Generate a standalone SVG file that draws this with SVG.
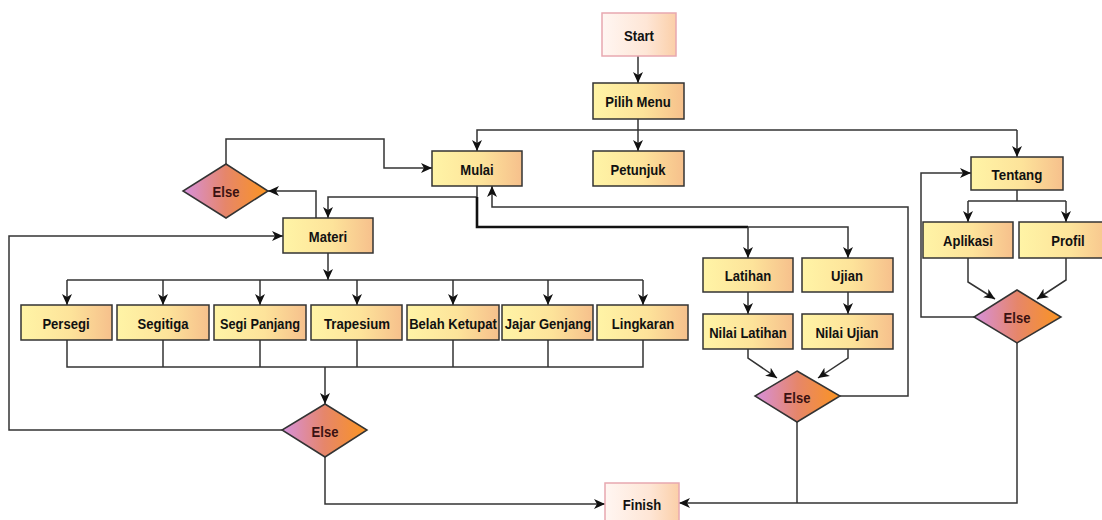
<svg xmlns="http://www.w3.org/2000/svg" width="1102" height="520" viewBox="0 0 1102 520">
<defs>
<linearGradient id="gBox" x1="0" y1="0" x2="1" y2="0">
<stop offset="0" stop-color="#fff4a6"/>
<stop offset="0.55" stop-color="#fde39a"/>
<stop offset="1" stop-color="#f6c08c"/>
</linearGradient>
<linearGradient id="gTerm" x1="0" y1="0" x2="1" y2="0">
<stop offset="0" stop-color="#fff6f2"/>
<stop offset="0.6" stop-color="#fee6d6"/>
<stop offset="1" stop-color="#fbcfa8"/>
</linearGradient>
<linearGradient id="gDia" x1="0" y1="0" x2="1" y2="0">
<stop offset="0" stop-color="#d690dc"/>
<stop offset="0.5" stop-color="#e6866a"/>
<stop offset="1" stop-color="#fb9420"/>
</linearGradient>
<marker id="arr" markerUnits="userSpaceOnUse" markerWidth="12" markerHeight="12" refX="11" refY="5" orient="auto" viewBox="0 0 12 10">
<path d="M0,0 L11,5 L0,10 L3,5 z" fill="#111"/>
</marker>
<style>
.box{fill:url(#gBox);stroke:#333;stroke-width:1.5}
.term{fill:url(#gTerm);stroke:#e8a8b0;stroke-width:1.5}
.dia{fill:url(#gDia);stroke:#333;stroke-width:1.5}
.t{font-family:"Liberation Sans",Arial,sans-serif;font-weight:bold;font-size:15.5px;fill:#111;text-anchor:middle;dominant-baseline:central}
.td{fill:#3a1212}
.c{fill:none;stroke:#333;stroke-width:1.5}
.a{marker-end:url(#arr)}
.thick{stroke-width:2.6;stroke:#111}
</style>
</defs>
<g id="connectors">
<path class="c a" d="M638,56 L638,83"/>
<path class="c a" d="M638,119 L638,151"/>
<path class="c a" d="M1017,130 L477,130 L477,151"/>
<path class="c a" d="M1017,130 L1017,157"/>
<path class="c a" d="M226,164 L226,139 L384,139 L384,168 L432,168"/>
<path class="c a" d="M316,218 L316,191 L268,191"/>
<path class="c a" d="M477,186 L477,197 L328,197 L328,218"/>
<path class="c thick" d="M477,197 L477,227 L748,227"/>
<path class="c a" d="M748,227 L748,258"/>
<path class="c a" d="M748,227 L848,227 L848,258"/>
<path class="c a" d="M748,292 L748,314"/>
<path class="c a" d="M848,292 L848,314"/>
<path class="c a" d="M748,349 L748,358 L777,378"/>
<path class="c a" d="M848,349 L848,358 L818,378"/>
<path class="c a" d="M840,396 L908,396 L908,207 L492,207 L492,186"/>
<path class="c" d="M797,422 L797,503"/>
<path class="c a" d="M1017,343 L1017,503 L679,503"/>
<path class="c a" d="M328,253 L328,280"/>
<path class="c" d="M67,280 L643,280"/>
<path class="c a" d="M67,280 L67,305"/>
<path class="c a" d="M163,280 L163,305"/>
<path class="c a" d="M260,280 L260,305"/>
<path class="c a" d="M357,280 L357,305"/>
<path class="c a" d="M453,280 L453,305"/>
<path class="c a" d="M548,280 L548,305"/>
<path class="c a" d="M643,280 L643,305"/>
<path class="c" d="M67,340 L67,367 L643,367 L643,340"/>
<path class="c" d="M163,340 L163,367"/>
<path class="c" d="M260,340 L260,367"/>
<path class="c" d="M357,340 L357,367"/>
<path class="c" d="M453,340 L453,367"/>
<path class="c" d="M548,340 L548,367"/>
<path class="c a" d="M325,367 L325,404"/>
<path class="c a" d="M282,430 L9,430 L9,236 L283,236"/>
<path class="c a" d="M325,457 L325,504 L605,504"/>
<path class="c" d="M1017,190 L1017,201"/>
<path class="c" d="M968,201 L1066,201"/>
<path class="c a" d="M968,201 L968,222"/>
<path class="c a" d="M1066,201 L1066,222"/>
<path class="c a" d="M968,258 L968,282 L995,299"/>
<path class="c a" d="M1066,258 L1066,280 L1037,299"/>
<path class="c a" d="M974,317 L921,317 L921,173 L971,173"/>
</g>
<g id="start"><rect class="term" x="602" y="13" width="74" height="43"/><text class="t" x="639" y="35" textLength="30" lengthAdjust="spacingAndGlyphs">Start</text></g>
<g id="pilih-menu"><rect class="box" x="593" y="83" width="91" height="36"/><text class="t" x="638" y="101" textLength="65.3" lengthAdjust="spacingAndGlyphs">Pilih Menu</text></g>
<g id="petunjuk"><rect class="box" x="593" y="151" width="91" height="35"/><text class="t" x="638" y="169" textLength="55.1" lengthAdjust="spacingAndGlyphs">Petunjuk</text></g>
<g id="mulai"><rect class="box" x="432" y="151" width="90" height="35"/><text class="t" x="477" y="169" textLength="33.4" lengthAdjust="spacingAndGlyphs">Mulai</text></g>
<g id="tentang"><rect class="box" x="971" y="157" width="92" height="33"/><text class="t" x="1017" y="174" textLength="50.8" lengthAdjust="spacingAndGlyphs">Tentang</text></g>
<g id="else1"><polygon class="dia" points="226,164 268,191 226,218 183,191"/><text class="t td" x="226" y="191" textLength="26.8" lengthAdjust="spacingAndGlyphs">Else</text></g>
<g id="materi"><rect class="box" x="283" y="218" width="90" height="35"/><text class="t" x="328" y="236" textLength="38.4" lengthAdjust="spacingAndGlyphs">Materi</text></g>
<g id="latihan"><rect class="box" x="703" y="258" width="90" height="34"/><text class="t" x="748" y="275" textLength="46.4" lengthAdjust="spacingAndGlyphs">Latihan</text></g>
<g id="ujian"><rect class="box" x="802" y="258" width="91" height="34"/><text class="t" x="847" y="275" textLength="31.9" lengthAdjust="spacingAndGlyphs">Ujian</text></g>
<g id="nilai-latihan"><rect class="box" x="703" y="314" width="90" height="35"/><text class="t" x="748" y="332" textLength="77.6" lengthAdjust="spacingAndGlyphs">Nilai Latihan</text></g>
<g id="nilai-ujian"><rect class="box" x="802" y="314" width="91" height="35"/><text class="t" x="847" y="332" textLength="63.1" lengthAdjust="spacingAndGlyphs">Nilai Ujian</text></g>
<g id="aplikasi"><rect class="box" x="923" y="222" width="90" height="36"/><text class="t" x="968" y="240" textLength="50" lengthAdjust="spacingAndGlyphs">Aplikasi</text></g>
<g id="profil"><rect class="box" x="1019" y="222" width="94" height="36"/><text class="t" x="1068" y="240" textLength="33.4" lengthAdjust="spacingAndGlyphs">Profil</text></g>
<g id="else4"><polygon class="dia" points="1017,290 1061,317 1017,343 974,317"/><text class="t td" x="1017" y="317" textLength="26.8" lengthAdjust="spacingAndGlyphs">Else</text></g>
<g id="persegi"><rect class="box" x="21" y="305" width="91" height="35"/><text class="t" x="66" y="323" textLength="47.2" lengthAdjust="spacingAndGlyphs">Persegi</text></g>
<g id="segitiga"><rect class="box" x="117" y="305" width="92" height="35"/><text class="t" x="163" y="323" textLength="50.8" lengthAdjust="spacingAndGlyphs">Segitiga</text></g>
<g id="segi-panjang"><rect class="box" x="214" y="305" width="92" height="35"/><text class="t" x="260" y="323" textLength="80" lengthAdjust="spacingAndGlyphs">Segi Panjang</text></g>
<g id="trapesium"><rect class="box" x="311" y="305" width="91" height="35"/><text class="t" x="357" y="323" textLength="66" lengthAdjust="spacingAndGlyphs">Trapesium</text></g>
<g id="belah-ketupat"><rect class="box" x="407" y="305" width="92" height="35"/><text class="t" x="453" y="323" textLength="87.7" lengthAdjust="spacingAndGlyphs">Belah Ketupat</text></g>
<g id="jajar-genjang"><rect class="box" x="502" y="305" width="91" height="35"/><text class="t" x="548" y="323" textLength="86.3" lengthAdjust="spacingAndGlyphs">Jajar Genjang</text></g>
<g id="lingkaran"><rect class="box" x="597" y="305" width="91" height="35"/><text class="t" x="643" y="323" textLength="62.4" lengthAdjust="spacingAndGlyphs">Lingkaran</text></g>
<g id="else2"><polygon class="dia" points="797,371 840,396 797,422 755,396"/><text class="t td" x="797" y="397" textLength="26.8" lengthAdjust="spacingAndGlyphs">Else</text></g>
<g id="else3"><polygon class="dia" points="325,404 367,430 325,457 282,430"/><text class="t td" x="325" y="431" textLength="26.8" lengthAdjust="spacingAndGlyphs">Else</text></g>
<g id="finish"><rect class="term" x="605" y="483" width="74" height="42"/><text class="t" x="642" y="504" textLength="38.4" lengthAdjust="spacingAndGlyphs">Finish</text></g>
</svg>
